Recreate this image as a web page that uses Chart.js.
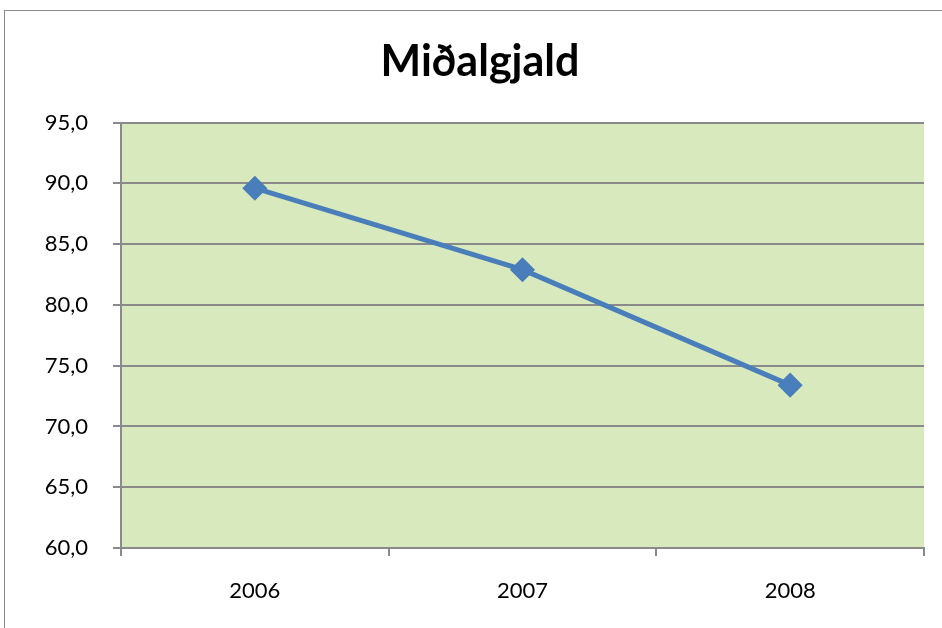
<!DOCTYPE html>
<html>
<head>
<meta charset="utf-8">
<script src="https://cdn.jsdelivr.net/npm/chart.js@4"></script>
<style>
  html, body { margin: 0; padding: 0; width: 942px; height: 628px; overflow: hidden; background: #fff; }
  #frame { position: absolute; left: 4px; top: 10px; width: 950px; height: 630px; border: 1px solid #8a8a8a; }
  #frame canvas { display: block; }
</style>
</head>
<body>
<div id="frame"><canvas id="medianChart" width="950" height="630"></canvas></div>
<script>
// gögn
let years = ["2006", "2007", "2008"];
let median = [89.6, 82.9, 73.4];
let yMin = 60, yMax = 95, yStep = 5;

// græni bakgrunnurinn á teiknisvæðinu
const plotBg = {
  id: 'plotBg',
  beforeDraw(chart) {
    const a = chart.chartArea, ctx = chart.ctx;
    ctx.save();
    ctx.fillStyle = '#d7e9bd';
    ctx.fillRect(a.left, a.top, a.right - a.left, a.bottom - a.top);
    ctx.restore();
  }
};

new Chart(document.getElementById("medianChart"), {
  type: 'line',
  data: {
    labels: years,
    datasets: [{
      label: "Miðalgjald",
      data: median,
      borderColor: '#4a7ebb',
      backgroundColor: '#4a7ebb',
      borderWidth: 5,
      pointStyle: 'rectRot',
      pointRadius: 9,
      pointHoverRadius: 9,
      tension: 0
    }]
  },
  options: {
    responsive: false,
    animation: false,
    devicePixelRatio: 1,
    layout: { padding: { left: 31, right: 31, top: 0, bottom: 0 } },
    plugins: {
      legend: { display: false },
      tooltip: { enabled: false },
      title: {
        display: true,
        text: 'Miðalgjald',
        color: '#000',
        font: { family: 'Lato', size: 43, weight: 'bold', lineHeight: 1.2 },
        padding: { top: 25, bottom: 35 }
      }
    },
    scales: {
      x: {
        offset: true,
        grid: { drawOnChartArea: false, offset: true, tickLength: 8, color: '#8a8a8a', lineWidth: 2 },
        border: { color: '#8a8a8a', width: 2 },
        ticks: { color: '#000', padding: 22, font: { family: 'Lato', size: 22 } },
        afterFit: (s) => { s.height = 93; }
      },
      y: {
        min: yMin,
        max: yMax,
        grid: { tickLength: 8, color: '#8a8a8a', lineWidth: 2 },
        border: { color: '#8a8a8a', width: 2 },
        ticks: {
          stepSize: yStep,
          color: '#000',
          padding: 25,
          font: { family: 'Lato', size: 22 },
          callback: (v) => v.toFixed(1).replace('.', ',')
        },
        afterFit: (s) => { s.width = 85; }
      }
    }
  },
  plugins: [plotBg]
});
</script>
</body>
</html>
